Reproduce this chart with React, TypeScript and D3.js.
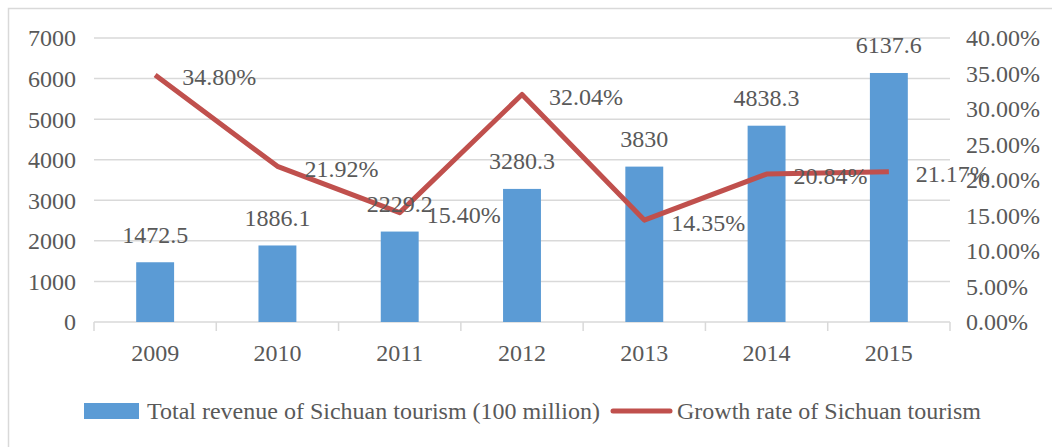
import * as d3 from "d3";
import React from "react";

const years = ["2009", "2010", "2011", "2012", "2013", "2014", "2015"];
const revenue = [1472.5, 1886.1, 2229.2, 3280.3, 3830, 4838.3, 6137.6];
const growth = [0.348, 0.2192, 0.154, 0.3204, 0.1435, 0.2084, 0.2117];
const growthLabels = ["34.80%", "21.92%", "15.40%", "32.04%", "14.35%", "20.84%", "21.17%"];
const leftTicks = [0, 1000, 2000, 3000, 4000, 5000, 6000, 7000];
const rightTicks = [0, 0.05, 0.1, 0.15, 0.2, 0.25, 0.3, 0.35, 0.4];
const legendNames = ["Total revenue of Sichuan tourism (100 million)", "Growth rate of Sichuan tourism"];

const W = 1052;
const H = 447;
const font = "'Liberation Serif', 'Times New Roman', serif";
const fs = 24;
const textColor = "#595959";
const gridColor = "#d9d9d9";
const barColor = "#5b9bd5";
const lineColor = "#c0504d";

const App = () => {
  const left = 94;
  const right = 950;
  const top = 38;
  const bottom = 322;

  const x = d3.scaleBand().domain(years).range([left, right]).paddingInner(0.69).paddingOuter(0.345);
  const xc = (d: string) => (x(d) as number) + x.bandwidth() / 2;
  const yL = d3.scaleLinear().domain([0, 7000]).range([bottom, top]);
  const yR = d3.scaleLinear().domain([0, 0.4]).range([bottom, top]);
  const step = (right - left) / years.length;

  const line = d3
    .line<number>()
    .x((d, i) => xc(years[i]))
    .y((d) => yR(d));

  return (
    <svg
      width={W}
      height={H}
      style={{ position: "absolute", left: 0, top: 0, background: "#fff" }}
      fontFamily={font}
    >
      <rect x={8.5} y={8.5} width={W} height={H} fill="#fff" stroke={gridColor} strokeWidth={1.5} />

      {/* grid */}
      {leftTicks.map((t) => (
        <line key={t} x1={left} x2={right} y1={yL(t)} y2={yL(t)} stroke={gridColor} strokeWidth={1.5} />
      ))}
      {d3.range(years.length + 1).map((i) => (
        <line
          key={i}
          x1={left + i * step}
          x2={left + i * step}
          y1={bottom}
          y2={bottom + 9}
          stroke={gridColor}
          strokeWidth={1.5}
        />
      ))}

      {/* left axis */}
      {leftTicks.map((t) => (
        <text key={t} x={76} y={yL(t)} dy="0.35em" textAnchor="end" fontSize={fs} fill={textColor}>
          {t}
        </text>
      ))}
      {/* right axis */}
      {rightTicks.map((t) => (
        <text key={t} x={966} y={yR(t)} dy="0.35em" textAnchor="start" fontSize={fs} fill={textColor}>
          {(t * 100).toFixed(2) + "%"}
        </text>
      ))}
      {/* category labels */}
      {years.map((yr) => (
        <text key={yr} x={xc(yr)} y={353} dy="0.35em" textAnchor="middle" fontSize={fs} fill={textColor}>
          {yr}
        </text>
      ))}

      {/* bars */}
      {revenue.map((v, i) => (
        <rect
          key={i}
          x={x(years[i])}
          y={yL(v)}
          width={x.bandwidth()}
          height={bottom - yL(v)}
          fill={barColor}
        />
      ))}

      {/* line */}
      <path d={line(growth) || ""} fill="none" stroke={lineColor} strokeWidth={5} strokeLinejoin="round" />

      {/* bar labels */}
      {revenue.map((v, i) => (
        <text
          key={i}
          x={xc(years[i])}
          y={yL(v) - 28}
          dy="0.35em"
          textAnchor="middle"
          fontSize={fs}
          fill={textColor}
        >
          {v}
        </text>
      ))}
      {/* line labels */}
      {growth.map((v, i) => (
        <text
          key={i}
          x={xc(years[i]) + 27}
          y={yR(v) + 2}
          dy="0.35em"
          textAnchor="start"
          fontSize={fs}
          fill={textColor}
        >
          {growthLabels[i]}
        </text>
      ))}

      {/* legend */}
      <rect x={84} y={403} width={55} height={16} fill={barColor} />
      <text x={147} y={411} dy="0.35em" fontSize={fs} fill={textColor}>
        {legendNames[0]}
      </text>
      <line x1={613} x2={670} y1={411} y2={411} stroke={lineColor} strokeWidth={5} strokeLinecap="round" />
      <text x={677} y={411} dy="0.35em" fontSize={fs} fill={textColor}>
        {legendNames[1]}
      </text>
    </svg>
  );
};

export default App;
